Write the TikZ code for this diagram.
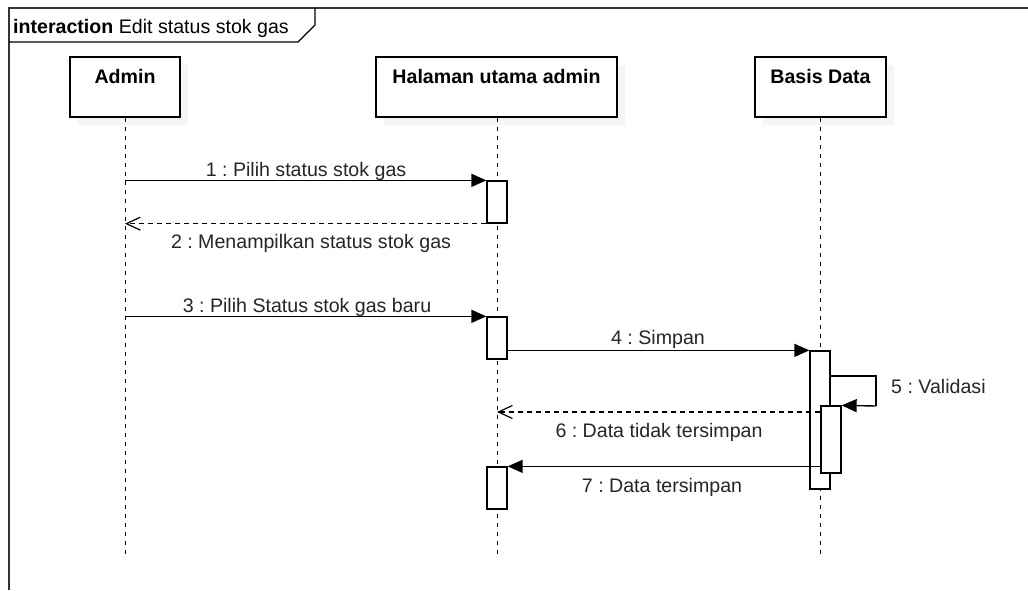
\documentclass[tikz,border=0pt]{standalone}
\usepackage{fontspec}
\setmainfont{Liberation Sans}
\usetikzlibrary{arrows.meta}
\frenchspacing
\begin{document}
\begin{tikzpicture}[x=1pt,y=-1pt,
  font=\fontsize{19.6}{23}\selectfont,
  head/.style={draw, fill=white, line width=1.3pt, minimum height=60pt, inner sep=0pt},
  headtxt/.style={anchor=base, inner sep=0pt, font=\fontsize{19.6}{23}\selectfont\bfseries},
  shade/.style={fill=black!4, draw=none, inner sep=0pt, minimum height=60pt},
  life/.style={line width=1pt, dash pattern=on 4pt off 5pt},
  act/.style={draw, fill=white, line width=1.3pt, minimum width=20pt, inner sep=0pt},
  call/.style={line width=1.4pt, -{Triangle[length=15pt,width=13pt]}},
  reply/.style={line width=1.2pt, dash pattern=on 5pt off 4pt, -{Straight Barb[length=14pt,width=13pt,line width=1.2pt]}},
  lbl/.style={anchor=base, inner sep=0pt, text=black!85}
]
\useasboundingbox (0,0) rectangle (1028,590);
\fill[white] (0,0) rectangle (1028,590);

% interaction frame and its name tab
\draw[line width=1.8pt, black!80] (9,590) -- (9,8) -- (1028,8);
\draw[line width=1.3pt] (9,42) -- (298,42) -- (315,25) -- (315,8);
\node[anchor=base west, inner sep=0pt] (title) at (13,33) {\textbf{interaction} Edit status stok gas};

% lifeline heads with soft shadows
\node[shade, minimum width=110pt] at (133,95) {};
\node[shade, minimum width=241pt] at (504.5,95) {};
\node[shade, minimum width=131pt] at (828.5,95) {};
\node[head, minimum width=110pt] (admin) at (125,87) {};
\node[head, minimum width=241pt] (hal) at (496.5,87) {};
\node[head, minimum width=131pt] (db) at (820.5,87) {};
\node[headtxt] (tAdmin) at (125,83) {Admin};
\node[headtxt] (tHal) at (496.5,83) {Halaman utama admin};
\node[headtxt] (tDb) at (820.5,83) {Basis Data};

% lifelines
\coordinate (endA) at (125,558);
\coordinate (endH) at (497,558);
\coordinate (endD) at (820,558);
\draw[life] (admin.south -| endA) -- (endA);
\draw[life] (hal.south -| endH) -- (endH);
\draw[life] (db.south -| endD) -- (endD);

% activation bars
\node[act, minimum height=42pt] (h1) at (497,202) {};
\node[act, minimum height=42pt] (h2) at (497,338) {};
\node[act, minimum height=42pt] (h3) at (497,488) {};
\node[act, minimum height=138pt] (b1) at (820,420) {};
\node[act, minimum height=67pt] (b2) at (831,439.5) {};

% messages
\draw[call] (endA |- h1.north) -- (h1.north west);
\node[lbl] (m1) at (306,176) {1 : Pilih status stok gas};

\draw[reply] (h1.south west) -- (endA |- h1.south);
\node[lbl] (m2) at (311,248) {2 : Menampilkan status stok gas};

\draw[call] (endA |- h2.north) -- (h2.north west);
\node[lbl] (m3) at (307,312) {3 : Pilih Status stok gas baru};

\draw[call] (h2.east |- b1.north) -- (b1.north west);
\node[lbl] (m4) at (658,344) {4 : Simpan};

\coordinate (selfA) at (876,376);
\draw[line width=1.4pt] (b1.east |- selfA) -- (selfA) -- (876,406) coordinate (selfB);
\draw[call] (selfB) -- (b2.north east);
\node[lbl, anchor=base west] (m5) at (891,393) {5 : Validasi};

\draw[reply] (b2.west |- 0,412) coordinate (r6) -- (endH |- r6);
\node[lbl] (m6) at (659,437) {6 : Data tidak tersimpan};

\draw[call] (b2.west |- h3.north) -- (h3.north east);
\node[lbl] (m7) at (662,492) {7 : Data tersimpan};
\end{tikzpicture}
\end{document}
